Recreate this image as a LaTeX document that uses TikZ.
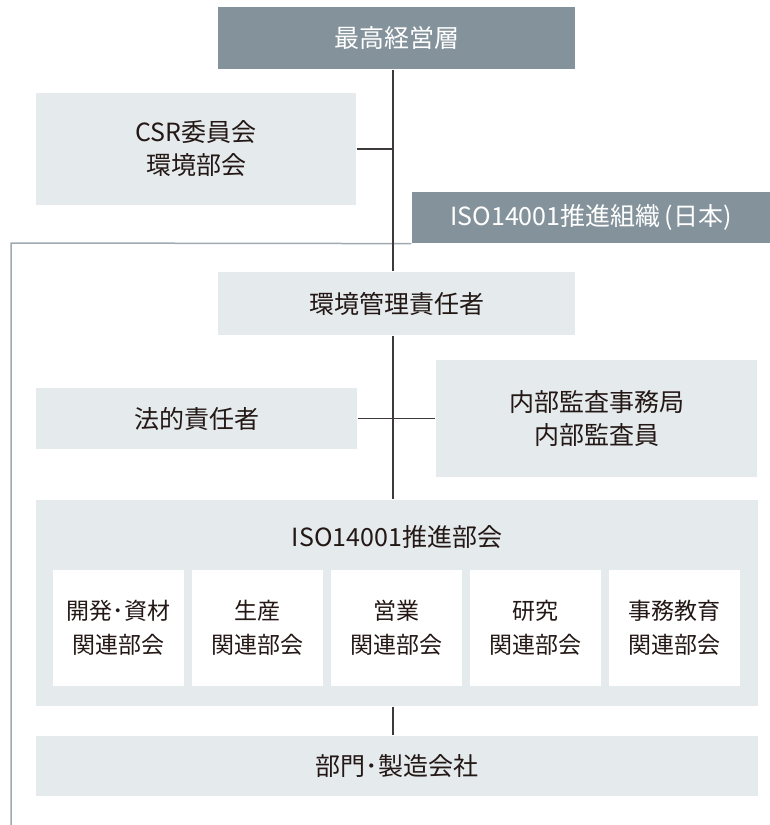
\documentclass[tikz,border=0pt]{standalone}
\usepackage{fontspec}
\setmainfont{Noto Sans CJK JP}
\definecolor{headgray}{HTML}{84939B}
\definecolor{boxgray}{HTML}{E5EAED}
\definecolor{linedark}{HTML}{3E3A39}
\definecolor{framegray}{HTML}{A0ABB1}
\definecolor{textdark}{HTML}{231815}
\begin{document}
\begin{tikzpicture}[x=1pt, y=-1pt, line width=1.2pt,
    head node/.style={fill=headgray, text=white, inner sep=0pt, font=\fontsize{25}{33}\selectfont},
    main node/.style={fill=boxgray, text=textdark, inner sep=0pt, align=center, font=\fontsize{25}{33}\selectfont},
    sub node/.style={fill=white, text=textdark, inner sep=0pt, align=center, minimum width=131pt, minimum height=116pt, font=\fontsize{23}{34}\selectfont},
    link/.style={draw=linedark},
    frame line/.style={draw=framegray, line width=1.5pt}]

    \useasboundingbox (0, 0) rectangle (770, 825);

    \node[head node, minimum width=357pt, minimum height=62pt] at (396.5, 38) (top) {最高経営層};
    \node[main node, minimum width=320pt, minimum height=112pt] at (196, 149) (csr) {CSR委員会\\環境部会};
    \node[head node, minimum width=358pt, minimum height=51pt] at (591, 217.5) (isohead) {ISO14001推進組織\,(日本)};
    \node[main node, minimum width=357pt, minimum height=63pt] at (396.5, 303.5) (mgr) {環境管理責任者};
    \node[main node, minimum width=321pt, minimum height=61pt] at (196.5, 418.5) (legal) {法的責任者};
    \node[main node, minimum width=321pt, minimum height=117pt] at (596.5, 418.5) (audit) {内部監査事務局\\内部監査員};
    \node[main node, minimum width=722pt, minimum height=206pt] at (397, 603) (promo) {};
    \node[main node] at (397, 537) (promotitle) {ISO14001推進部会};
    \node[main node, minimum width=722pt, minimum height=60pt] at (397, 766) (dept) {部門･製造会社};

    \foreach \name/\x/\label in {devel/118.5/開発･資材, prod/257.5/生産, sales/396.5/営業, research/535.5/研究, office/674.5/事務教育}
        \node[sub node] at (\x, 628) (\name) {\label\\関連部会};

    \coordinate (spine) at (393, 0);
    \coordinate (fcorner) at (11, 243);
    \coordinate (fend) at (11, 825);

    \path[frame line] (isohead.south west) -- (fcorner) -- (fend);

    \path[link] (top.south -| spine) edge (mgr.north -| spine);
    \path[link] (mgr.south -| spine) edge (promo.north -| spine);
    \path[link] (promo.south -| spine) edge (dept.north -| spine);
    \path[link] (csr.east) edge (csr.east -| spine);
    \path[link] (legal.east) edge (audit.west);

\end{tikzpicture}
\end{document}
